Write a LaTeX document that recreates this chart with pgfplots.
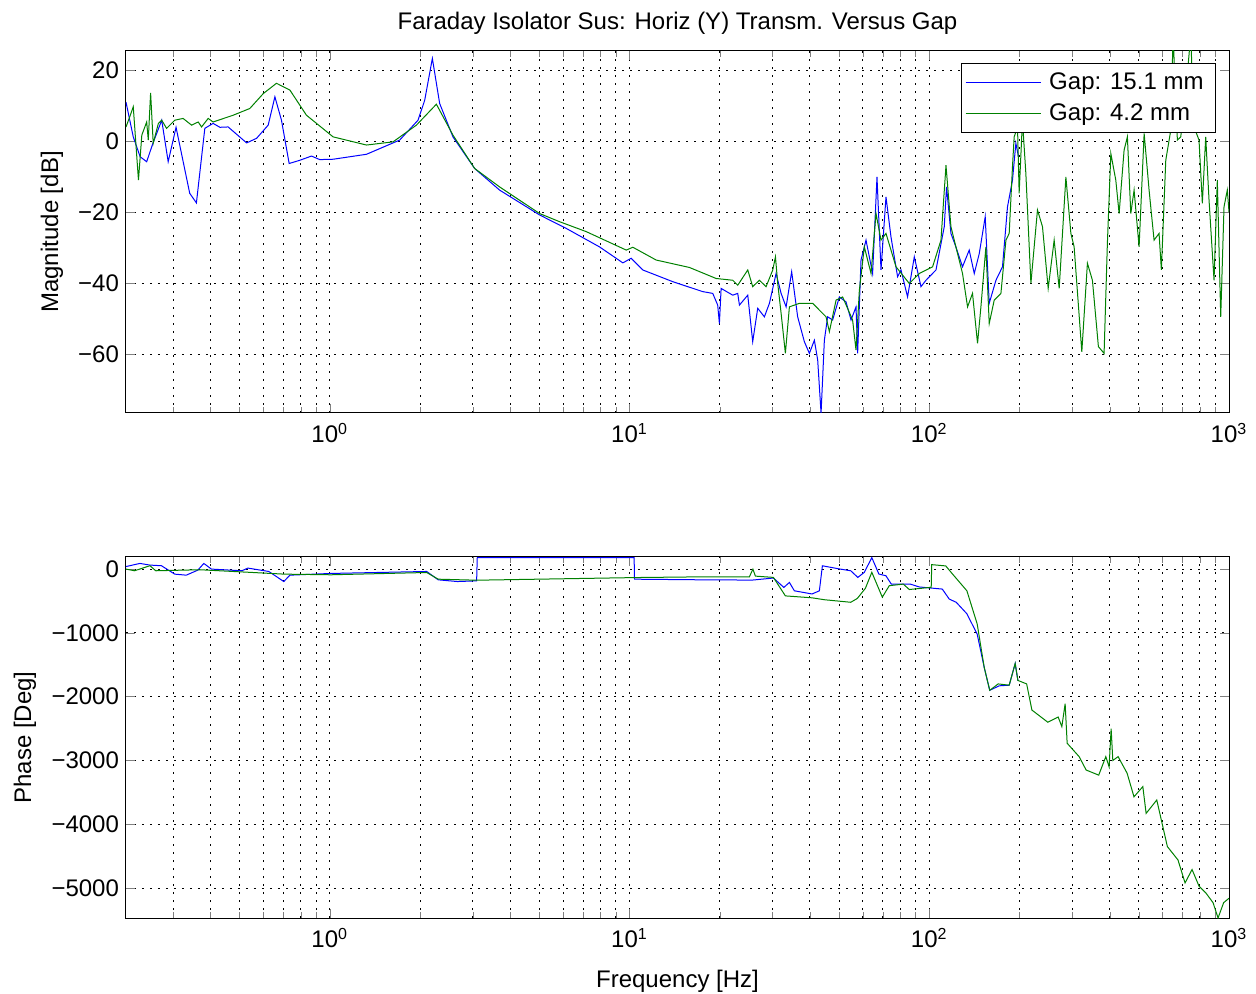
\documentclass[border=0pt]{standalone}
\usepackage{pgfplots}
\pgfplotsset{compat=1.18}
\usepackage{fontspec}
\setmainfont{Liberation Sans}
\definecolor{mblue}{rgb}{0,0,1}
\definecolor{mgreen}{rgb}{0,0.5,0}
\begin{document}
\begin{tikzpicture}
\useasboundingbox (-63pt,-38pt) rectangle (565pt,459pt);
% ---------------- Magnitude ----------------
\begin{axis}[at={(0,252.5pt)}, anchor=south west,
    scale only axis, width=551.5pt, height=181pt,
    xmode=log, xmin=0.209, xmax=1000,
    font=\fontsize{12}{14}\selectfont,
    tick label style={font=\fontsize{12}{14}\selectfont},
    xtick={1,10,100,1000},
    xticklabels={10\textsuperscript{0},10\textsuperscript{1},10\textsuperscript{2},10\textsuperscript{3}},
    minor xtick={0.3,0.4,0.5,0.6,0.7,0.8,0.9,2,3,4,5,6,7,8,9,20,30,40,50,60,70,80,90,200,300,400,500,600,700,800,900},
    xticklabel style={yshift=-1.5pt},
    xmajorgrids=true, xminorgrids=true, ymajorgrids=true,
    major grid style={black, line width=0.5pt, dash pattern=on 1pt off 3pt},
    minor grid style={black, line width=0.5pt, dash pattern=on 1pt off 3pt},
    tick align=inside, tick pos=both,
    major tick length=4.5pt, minor tick length=3pt,
    axis line style={black, line width=0.5pt},
    title style={at={(axis description cs:0.5,1)}, anchor=base, yshift=4.5pt},
  ymin=-76.6, ymax=25.4,
  ytick={-60,-40,-20,0,20},
  yticklabels={−60,−40,−20,0,20},
  title={Faraday Isolator Sus: Horiz (Y) Transm. Versus Gap},
  ylabel={Magnitude [dB]},
  ylabel style={at={(axis description cs:-0.0671,0.5)}, anchor=center},
  legend style={at={(1,1)}, anchor=north east, xshift=-6.5pt, yshift=-6pt,
    draw=black, fill=white, line width=0.5pt, font=\fontsize{12}{14}\selectfont,
    inner xsep=2pt, inner ysep=2.5pt, row sep=1.5pt,
    nodes={inner ysep=2pt, inner xsep=4pt}},
  legend cell align=left,
  legend image code/.code={\draw[#1,line width=0.5pt] (0pt,0pt) -- (37.5pt,0pt);},
]
\addplot[mblue, line width=0.5pt] coordinates {
(0.209,11) (0.221,1.2) (0.233,-4.4) (0.245,-5.8) (0.257,-0.6) (0.275,5.9) (0.289,-5.8) (0.307,3.9) (0.341,-14.7) (0.359,-17.4) (0.383,3.6) (0.408,5.0) (0.430,3.9) (0.458,4.0) (0.528,-0.5) (0.570,0.8) (0.623,4.5) (0.656,12.5) (0.690,5.9) (0.732,-6.3) (0.794,-5.4) (0.869,-4.2) (0.926,-5.2) (1.026,-5.1) (1.326,-3.7) (1.711,0.3) (1.970,5.9) (2.073,11.5) (2.199,23.3) (2.326,10.6) (2.576,1.2) (3.043,-7.7) (3.687,-13.8) (5.012,-20.8) (6.152,-24.6) (7.943,-29.8) (9.500,-34.3) (10.13,-33.0) (11.07,-36.3) (13.94,-39.6) (17.55,-42.4) (18.95,-42.9) (19.69,-46.2) (19.95,-51.4) (20.21,-41.5) (22.10,-43.4) (22.96,-42.9) (23.26,-46.2) (24.80,-43.4) (25.76,-56.5) (26.77,-47.1) (28.18,-49.5) (29.29,-45.7) (30.83,-37.3) (32.04,-42.9) (33.30,-46.7) (34.75,-36.8) (36.39,-49.5) (38.31,-56.5) (39.81,-59.8) (41.37,-56.1) (42.44,-61.7) (43.55,-76.7) (44.67,-56.1) (45.81,-49.5) (47.60,-50.4) (50.12,-43.9) (52.76,-45.3) (54.83,-50.4) (56.97,-46.7) (57.68,-59.8) (59.20,-33.5) (61.52,-27.9) (64.71,-37.3) (66.93,-10.1) (69.02,-36.3) (71.72,-15.7) (74.53,-27.0) (78.40,-38.2) (80.47,-36.3) (84.65,-43.9) (89.13,-32.6) (93.83,-41.0) (97.50,-39.2) (105.3,-36.3) (112.2,-24.1) (114.2,-12.9) (118.1,-26.0) (122.7,-29.8) (129.1,-35.4) (135.9,-30.7) (141.3,-37.3) (146.8,-31.7) (153.7,-21.3) (158.5,-45.7) (166.9,-39.2) (175.5,-35.4) (182.4,-18.5) (189.5,-11.0) (194.5,-0.6) (198.5,-4.4)
};
\addlegendentry{Gap: 15.1 mm}
\addplot[mgreen, line width=0.5pt] coordinates {
(0.209,4.0) (0.215,6.8) (0.221,9.7) (0.230,-11) (0.236,1.7) (0.245,5.4) (0.248,0.3) (0.2525,13.6) (0.2576,-0.6) (0.268,5.0) (0.275,5.9) (0.2855,3.6) (0.304,5.9) (0.324,6.4) (0.346,4.5) (0.364,5.4) (0.3735,4.0) (0.393,6.4) (0.408,5.4) (0.476,7.3) (0.541,9.2) (0.600,13.4) (0.664,16.3) (0.736,14.4) (0.836,7.3) (1.026,1.2) (1.326,-1.1) (1.626,-0.2) (1.945,4.5) (2.268,10.4) (2.576,1.7) (3.043,-7.7) (3.687,-12.9) (5.012,-20.4) (5.843,-22.7) (7.173,-25.5) (9.750,-30.7) (10.26,-29.9) (12.27,-33.5) (15.85,-35.6) (19.45,-38.7) (22.10,-39.2) (22.96,-40.6) (24.80,-36.3) (25.76,-41.0) (27.12,-39.2) (28.55,-41.0) (30.05,-36.3) (30.68,-32.6) (31.22,-40.1) (32.04,-48.5) (33.11,-59.8) (34.15,-46.7) (36.87,-45.7) (40.83,-45.7) (45.25,-49.5) (46.42,-53.7) (48.87,-44.8) (51.40,-43.9) (55.49,-50.4) (56.97,-58.9) (58.45,-42.0) (60.73,-29.8) (63.93,-37.3) (66.43,-20.4) (69.02,-27.9) (71.72,-26.0) (77.45,-35.4) (85.77,-40.1) (92.62,-37.3) (102.6,-35.4) (109.4,-27.9) (113.7,-6.8) (118.1,-24.1) (122.7,-29.8) (129.1,-37.3) (134.2,-46.7) (139.4,-42.9) (144.9,-57.0) (148.7,-46.7) (154.5,-29.8) (158.5,-51.4) (164.7,-44.8) (173.4,-42.9) (180.2,-27.9) (184.8,-26.0) (189.5,-7.2) (192.0,1.2) (197.0,4.0) (199.5,-14.7) (204.6,5.9) (210.0,-9.1) (218.3,-40.1) (229.6,-19.4) (238.6,-24.1) (249.3,-41.5) (261.0,-27.9) (271.3,-41.5) (285.6,-10.1) (296.8,-26.0) (304.3,-29.8) (322.8,-59.4) (337.0,-34.4) (350.2,-39.2) (366.7,-57.9) (383.1,-59.8) (392.9,-28.8) (403.4,-3.5) (419.1,-11.0) (429.9,-20.4) (446.7,-2.5) (458.1,1.2) (470.2,-20.4) (482.3,-13.8) (501.2,-29.8) (521.0,2.2) (541.2,-13.8) (562.3,-27.9) (584.3,-26.0) (594.7,-36.3) (615.2,-5.4) (639.3,3.1) (650.7,30) (672.6,0.3) (690.2,1.2) (717.3,13.4) (745.2,30) (764.3,4.0) (794.3,0.3) (814.7,-17.5) (836.1,1.2) (857.7,-16.6) (891.3,-39.2) (914.1,-11.0) (938.3,-49.5) (962.3,-18.5) (987.0,-13.8) (1000,-20)
};
\addlegendentry{Gap: 4.2 mm}
\end{axis}
% ---------------- Phase ----------------
\begin{axis}[at={(0,0)}, anchor=south west,
    scale only axis, width=551.5pt, height=180.5pt,
    xmode=log, xmin=0.209, xmax=1000,
    font=\fontsize{12}{14}\selectfont,
    tick label style={font=\fontsize{12}{14}\selectfont},
    xtick={1,10,100,1000},
    xticklabels={10\textsuperscript{0},10\textsuperscript{1},10\textsuperscript{2},10\textsuperscript{3}},
    minor xtick={0.3,0.4,0.5,0.6,0.7,0.8,0.9,2,3,4,5,6,7,8,9,20,30,40,50,60,70,80,90,200,300,400,500,600,700,800,900},
    xticklabel style={yshift=-1.5pt},
    xmajorgrids=true, xminorgrids=true, ymajorgrids=true,
    major grid style={black, line width=0.5pt, dash pattern=on 1pt off 3pt},
    minor grid style={black, line width=0.5pt, dash pattern=on 1pt off 3pt},
    tick align=inside, tick pos=both,
    major tick length=4.5pt, minor tick length=3pt,
    axis line style={black, line width=0.5pt},
  ymin=-5470, ymax=190,
  ytick={-5000,-4000,-3000,-2000,-1000,0},
  yticklabels={−5000,−4000,−3000,−2000,−1000,0},
  xlabel={Frequency [Hz]},
  xlabel style={at={(axis description cs:0.5,0)}, anchor=base, yshift=-34.5pt},
  ylabel={Phase [Deg]},
  ylabel style={at={(axis description cs:-0.0916,0.5)}, anchor=center},
]
\addplot[mblue, line width=0.5pt] coordinates {
(0.209,40) (0.2326,89) (0.2512,63) (0.2744,53) (0.304,-79) (0.332,-95) (0.363,-16) (0.380,89) (0.403,0) (0.509,-26) (0.533,16) (0.626,-37) (0.7025,-195) (0.736,-95) (1.008,-68) (2.105,-37) (2.300,-168) (2.665,-195) (3.090,-184) (3.105,180) (10.36,180) (10.39,-158) (17.51,-168) (25.70,-172) (30.20,-140) (32.73,-287) (34.15,-209) (35.48,-340) (40.64,-390) (42.99,-340) (44.00,52) (50.50,0) (54.70,-26) (57.77,-130) (60.73,-50) (64.32,180) (67.92,-78) (71.67,-104) (74.70,-235) (86.44,-235) (92.62,-280) (110.5,-313) (116.6,-470) (123.0,-520) (133.5,-700) (144.5,-1020) (152.5,-1540) (159.1,-1900) (171.1,-1830) (184.8,-1820) (193.5,-1480) (197.6,-1750)
};
\addplot[mgreen, line width=0.5pt] coordinates {
(0.209,0) (0.2232,-26) (0.2512,53) (0.2627,-26) (0.369,-10) (0.706,-79) (1.008,-89) (2.105,-53) (2.300,-158) (3.090,-174) (10.67,-132) (17.51,-121) (25.12,-120) (25.80,0) (26.30,-110) (30.20,-130) (33.11,-420) (40.64,-450) (44.67,-480) (54.70,-520) (57.54,-460) (61.24,-300) (64.32,-50) (69.72,-440) (73.56,-260) (81.90,-235) (85.77,-320) (101.5,-285) (101.9,70) (113.5,50) (119.7,-80) (133.5,-340) (144.5,-860) (152.5,-1540) (159.1,-1900) (169.8,-1800) (184.8,-1820) (193.5,-1480) (197.6,-1745) (211.3,-1800) (220.0,-2210) (248.5,-2400) (269.2,-2320) (276.9,-2470) (284.0,-2110) (288.4,-2730) (316.2,-2940) (333.7,-3150) (367.5,-3230) (388.2,-2940) (398.1,-3100) (404.3,-2500) (409.6,-3000) (426.6,-2940) (457.1,-3200) (481.9,-3570) (515.8,-3410) (529.0,-3830) (574.1,-3620) (622.8,-4350) (675.7,-4560) (713.5,-4920) (752.9,-4710) (794.3,-4970) (838.0,-5080) (884.6,-5230) (919.2,-5470) (959.4,-5230) (1000,-5160)
};
\end{axis}
\end{tikzpicture}
\end{document}
